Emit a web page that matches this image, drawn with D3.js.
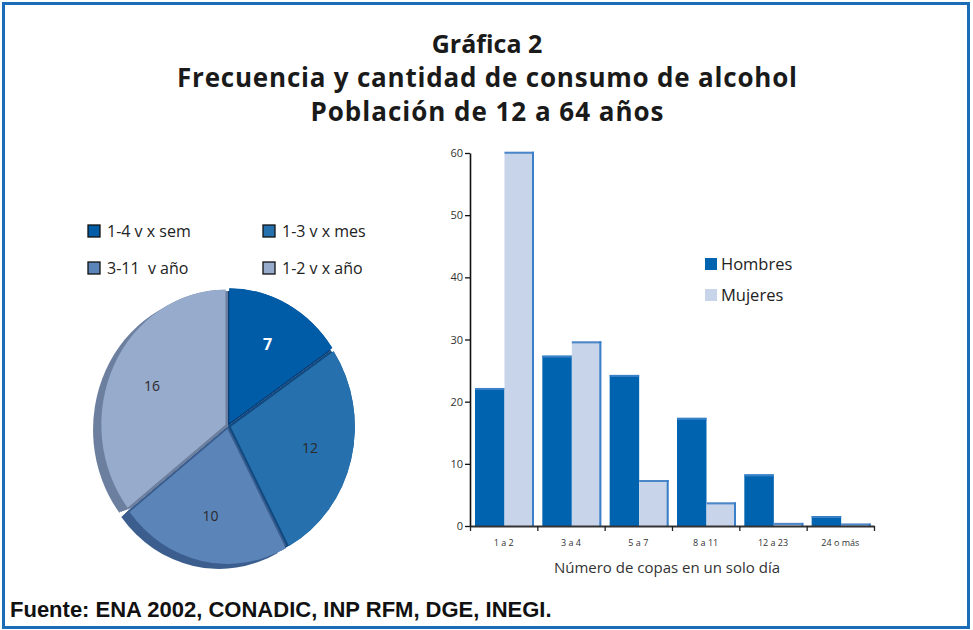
<!DOCTYPE html>
<html><head><meta charset="utf-8">
<script src="https://cdn.jsdelivr.net/npm/d3@7"></script>
<style>
html,body{margin:0;padding:0;background:#fff;}
svg{display:block;}
</style></head>
<body>
<svg id="chart" width="973" height="630"></svg>
<script>
// ---- data ----
const titleLines = ["Gráfica 2", "Frecuencia y cantidad de consumo de alcohol", "Población de 12 a 64 años"];
const pieCategories = ["1-4 v x sem", "1-3 v x mes", "3-11  v año", "1-2 v x año"];
const pieValues = [7, 12, 10, 16];
const pieColors = ["#005ca6", "#2570ad", "#5b84b8", "#97abcd"];
const pieDepthColors = ["#0b3f78", "#124a80", "#3b5e8e", "#6c7f9f"];
const barCategories = ["1 a 2", "3 a 4", "5 a 7", "8 a 11", "12 a 23", "24 o más"];
const barSeries = ["Hombres", "Mujeres"];
const hombres = [22.2, 27.4, 24.3, 17.4, 8.3, 1.6];
const mujeres = [60.2, 29.7, 7.4, 3.8, 0.5, 0.4];
const yTicks = [0, 10, 20, 30, 40, 50, 60];
const seriesColors = ["#0063b0", "#c7d4ea"];
const xAxisTitle = "Número de copas en un solo día";
const source = "Fuente: ENA 2002, CONADIC, INP RFM, DGE, INEGI.";

const svg = d3.select("#chart");
const FONT = "'Open Sans', 'Noto Sans', sans-serif";

// frame
svg.append("rect").attr("x", 3.5).attr("y", 3.5).attr("width", 965).attr("height", 624)
  .attr("fill", "#fff").attr("stroke", "#1a6db6").attr("stroke-width", 3);

// title
const tY = [53, 87, 121];
const tLen = [null, 620, 353];
titleLines.forEach((t, i) => {
  const el = svg.append("text").attr("x", 487).attr("y", tY[i]).attr("text-anchor", "middle")
    .attr("font-family", FONT).attr("font-weight", 700).attr("font-size", i === 0 ? 25 : 26)
    .attr("fill", "#1a1a1a").text(t);
  if (tLen[i]) el.attr("textLength", tLen[i]).attr("lengthAdjust", "spacing");
});

// ---- pie ----
const cx = 228, cy = 426, R = 135, sx = 0.92;
const pie = d3.pie().sort(null).value(d => d)(pieValues);
const arc = d3.arc().innerRadius(0).outerRadius(R);
const pg = svg.append("g").attr("transform", `translate(${cx},${cy}) scale(${sx},1)`);
const explode = 3;
function off(d) {
  const a = (d.startAngle + d.endAngle) / 2;
  return [Math.sin(a) * explode, -Math.cos(a) * explode];
}
// depth: extruded copies from centre position out to shifted position
const steps = [0, 0.2, 0.4, 0.6, 0.8, 1];
pie.forEach((d, i) => {
  const [ox, oy] = off(d);
  steps.forEach(t => {
    pg.append("path").attr("d", arc(d)).attr("fill", pieDepthColors[i])
      .attr("transform", `translate(${ox * t - 9 * t},${oy * t + 5 * t})`);
  });
  pg.append("path").attr("d", arc(d)).attr("fill", pieDepthColors[i])
    .attr("transform", `translate(${ox},${oy})scale(0.999)`);
});
// faces
pie.forEach((d, i) => {
  const [ox, oy] = off(d);
  pg.append("path").attr("d", arc(d)).attr("fill", pieColors[i])
    .attr("transform", `translate(${ox},${oy})`);
});
// labels
const lblArc = d3.arc().innerRadius(R * 0.68).outerRadius(R * 0.68);
pie.forEach((d, i) => {
  const c = lblArc.centroid(d);
  svg.append("text").attr("x", cx + c[0] * sx).attr("y", cy + c[1] + 5)
    .attr("text-anchor", "middle").attr("font-family", FONT)
    .attr("font-size", i === 0 ? 16 : 14).attr("font-weight", i === 0 ? 700 : 400)
    .attr("fill", i === 0 ? "#fff" : "#2a2a2a").text(pieValues[i]);
});
// pie legend
const legPos = [[88, 225], [263, 225], [88, 262], [263, 262]];
pieCategories.forEach((c, i) => {
  const [lx, ly] = legPos[i];
  svg.append("rect").attr("x", lx).attr("y", ly).attr("width", 12).attr("height", 12)
    .attr("fill", pieColors[i]).attr("stroke", "#111").attr("stroke-width", 1.3);
  svg.append("text").attr("x", lx + 19).attr("y", ly + 12).attr("font-family", FONT)
    .attr("font-size", 16).attr("fill", "#222").attr("xml:space", "preserve").text(c);
});

// ---- bars ----
const x0 = 470, x1 = 874, yTop = 153, yBot = 526;
const x = d3.scaleBand().domain(barCategories).range([x0, x1]).padding(0);
const xs = d3.scaleBand().domain(barSeries).range([5, 64]).padding(0);
const y = d3.scaleLinear().domain([0, 60]).range([yBot, yTop]);
const series = [hombres, mujeres];
const bg = svg.append("g");
barCategories.forEach((cat, ci) => {
  barSeries.forEach((s, si) => {
    const v = series[si][ci];
    const bx = x(cat) + xs(s), bw = xs.bandwidth();
    const by = y(v), bh = yBot - y(v);
    bg.append("rect").attr("x", bx).attr("y", by).attr("width", bw).attr("height", bh)
      .attr("fill", seriesColors[si]);
    bg.append("rect").attr("x", bx).attr("y", by).attr("width", bw).attr("height", Math.min(2, bh))
      .attr("fill", si === 0 ? "#3a82c8" : "#4a86c8");
    if (si === 1) {
      bg.append("rect").attr("x", bx + bw - 2).attr("y", by).attr("width", 2).attr("height", bh)
        .attr("fill", "#3a7fc8");
    }
  });
});

// y axis
const yAxis = svg.append("g").attr("transform", `translate(${x0},0)`)
  .call(d3.axisLeft(y).tickValues(yTicks).tickSize(5).tickSizeOuter(0));
yAxis.select(".domain").attr("stroke", "#111").attr("stroke-width", 1.6);
yAxis.selectAll(".tick line").attr("stroke", "#111").attr("stroke-width", 1.3);
yAxis.selectAll("text").attr("font-family", FONT).attr("font-size", 11).attr("fill", "#333").attr("x", -7);

// x axis: ticks at band edges
const edges = barCategories.map(c => x(c)).concat([x1]);
const xLin = d3.scaleLinear().domain([x0, x1]).range([x0, x1]);
const xAxis = svg.append("g").attr("transform", `translate(0,${yBot})`)
  .call(d3.axisBottom(xLin).tickValues(edges).tickSize(5).tickSizeOuter(0).tickFormat(""));
xAxis.select(".domain").attr("stroke", "#333").attr("stroke-width", 2.2);
xAxis.selectAll(".tick line").attr("stroke", "#222").attr("stroke-width", 1.3);
const xLab = svg.append("g").attr("transform", `translate(0,${yBot})`)
  .call(d3.axisBottom(x).tickSize(0).tickPadding(14));
xLab.select(".domain").remove();
xLab.selectAll("text").attr("font-family", FONT).attr("font-size", 9).attr("fill", "#333");
svg.append("text").attr("x", 667).attr("y", 573).attr("text-anchor", "middle")
  .attr("font-family", FONT).attr("font-size", 15).attr("fill", "#333").text(xAxisTitle);

// bar legend
barSeries.forEach((s, i) => {
  const ly = 258 + i * 31;
  svg.append("rect").attr("x", 705).attr("y", ly).attr("width", 12).attr("height", 12).attr("fill", seriesColors[i]);
  svg.append("text").attr("x", 721).attr("y", ly + 12).attr("font-family", FONT)
    .attr("font-size", 16.5).attr("fill", "#222").text(s);
});

// source
svg.append("text").attr("x", 10).attr("y", 617).attr("font-family", "'Liberation Sans', Arial, sans-serif")
  .attr("font-weight", 700).attr("font-size", 22).attr("fill", "#111").text(source);
</script>
</body></html>
